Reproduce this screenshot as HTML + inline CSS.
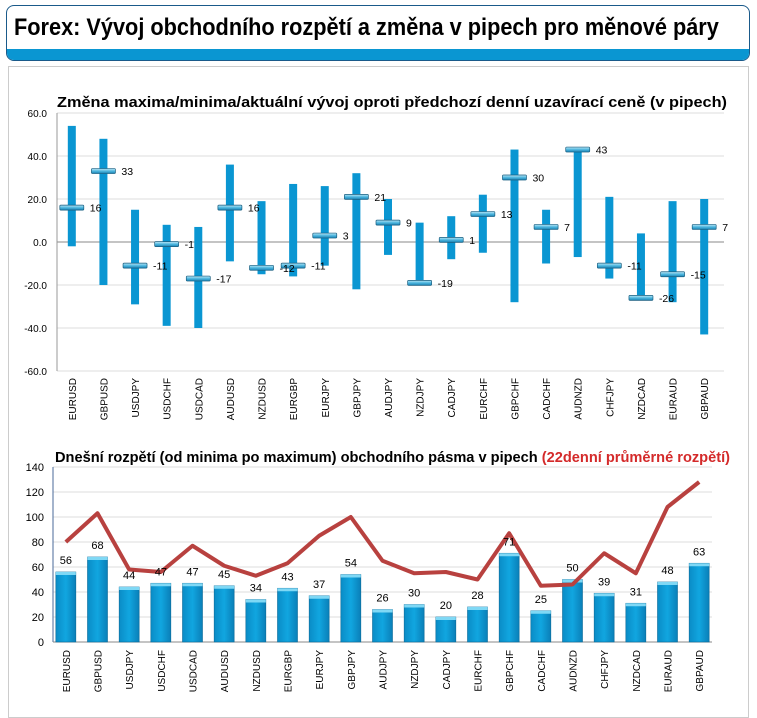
<!DOCTYPE html>
<html><head><meta charset="utf-8"><style>
body{margin:0;width:757px;height:706px;background:#fff;overflow:hidden;font-family:"Liberation Sans",sans-serif}
#hdr{position:absolute;left:6px;top:5px;width:742px;height:54px;border:1px solid #1a5a8a;border-radius:8px;overflow:hidden;background:#fff}
#hdr .band{position:absolute;left:0;right:0;bottom:0;height:11px;background:#0a96d2}
#hdr .t{position:absolute;left:7px;top:8px;font-weight:bold;font-size:24px;color:#000;white-space:nowrap;transform:scaleX(0.905);transform-origin:left top}
#panel{position:absolute;left:8px;top:66px;width:739px;height:650px;border:1px solid #ccc}
svg{position:absolute;left:0;top:0}
</style></head><body>
<div id="hdr"><div class="t">Forex: Vývoj obchodního rozpětí a změna v pipech pro měnové páry</div><div class="band"></div></div>
<div id="panel"></div>
<svg id="s" width="757" height="706">
<defs><linearGradient id="mk" x1="0" y1="0" x2="0" y2="1"><stop offset="0" stop-color="#bfe6f5"/><stop offset="0.5" stop-color="#4fb8e0"/><stop offset="1" stop-color="#1a7fb0"/></linearGradient>
<linearGradient id="bg" x1="0" y1="0" x2="1" y2="0"><stop offset="0" stop-color="#0a8cc6"/><stop offset="0.5" stop-color="#11a6e0"/><stop offset="1" stop-color="#0a7fb8"/></linearGradient></defs>
<text x="57" y="107" font-size="15" font-weight="bold" textLength="670" lengthAdjust="spacingAndGlyphs">Změna maxima/minima/aktuální vývoj oproti předchozí denní uzavírací ceně (v pipech)</text>
<text x="55" y="462" font-size="15" font-weight="bold" textLength="675" lengthAdjust="spacingAndGlyphs">Dnešní rozpětí (od minima po maximum) obchodního pásma v pipech <tspan fill="#d42a2a">(22denní průměrné rozpětí)</tspan></text>
</svg>
<script>
const cats=["EURUSD","GBPUSD","USDJPY","USDCHF","USDCAD","AUDUSD","NZDUSD","EURGBP","EURJPY","GBPJPY","AUDJPY","NZDJPY","CADJPY","EURCHF","GBPCHF","CADCHF","AUDNZD","CHFJPY","NZDCAD","EURAUD","GBPAUD"];
const highs=[54,48,15,8,7,36,19,27,26,32,20,9,12,22,43,15,43,21,4,19,20];
const lows=[-2,-20,-29,-39,-40,-9,-15,-16,-11,-22,-6,-19,-8,-5,-28,-10,-7,-17,-26,-28,-43];
const current=[16,33,-11,-1,-17,16,-12,-11,3,21,9,-19,1,13,30,7,43,-11,-26,-15,7];
const topTicks=[60,40,20,0,-20,-40,-60];
const ranges=[56,68,44,47,47,45,34,43,37,54,26,30,20,28,71,25,50,39,31,48,63];
const avg22=[80,103,58,56,77,61,53,63,85,100,65,55,56,50,87,45,46,71,55,108,128];
const botTicks=[0,20,40,60,80,100,120,140];
</script>
<script>
const s=document.getElementById('s');const NS="http://www.w3.org/2000/svg";
function mk(t,a,txt){const e=document.createElementNS(NS,t);for(const k in a)e.setAttribute(k,a[k]);if(txt!==undefined)e.textContent=txt;s.appendChild(e);return e;}
const n=cats.length;
// top chart
const tL=56,tR=720,ty=v=>242-v*2.15,tx=i=>tL+(tR-tL)/n*(i+0.5);
topTicks.forEach(v=>{
 const g=mk('line',{x1:57,x2:724,y1:ty(v),y2:ty(v),stroke:v===0?'#888':'#ddd','stroke-width':1});
 
 const t=mk('text',{x:47,y:ty(v)+4,'font-size':10,'text-anchor':'end'},v.toFixed(1));
 
});
const ax=mk('line',{x1:57,x2:57,y1:ty(60),y2:ty(-60),stroke:'#999'});

cats.forEach((c,i)=>{
 const x=tx(i);
 const b=mk('rect',{x:x-4,y:ty(highs[i]),width:8,height:ty(lows[i])-ty(highs[i]),fill:'#0a96d2'});
 
 const m=mk('rect',{x:x-12,y:ty(current[i])-2.5,width:24,height:5,fill:'url(#mk)',stroke:'#1a5f80','stroke-width':0.7,rx:1});
 
 const xl=mk('text',{transform:`translate(${x+4},378) rotate(-90)`,'font-size':10,'text-anchor':'end'},c);
 
});
cats.forEach((c,i)=>{
 const x=tx(i);
 const l=mk('text',{x:x+18,y:ty(current[i])+4,'font-size':10.5},String(current[i]));
 
});
// bottom chart
const bL=50,bR=715,by=v=>642-v*1.25,bx=i=>bL+(bR-bL)/n*(i+0.5);
botTicks.forEach(v=>{
 if(v>0){const g=mk('line',{x1:53,x2:712,y1:by(v),y2:by(v),stroke:'#ddd'});
 }
 const t=mk('text',{x:44,y:by(v)+4,'font-size':11,'text-anchor':'end'},String(v));
 
});
const a2=mk('line',{x1:53,x2:53,y1:by(140),y2:by(0),stroke:'#4a6a9a'});

const a3=mk('line',{x1:53,x2:712,y1:by(0),y2:by(0),stroke:'#888'});

cats.forEach((c,i)=>{
 const x=bx(i);
 const b=mk('rect',{x:x-10,y:by(ranges[i]),width:20,height:by(0)-by(ranges[i]),fill:'url(#bg)',stroke:'#0a6a98','stroke-width':0.6});
 
 const cap=mk('rect',{x:x-10,y:by(ranges[i]),width:20,height:3,fill:'#7fd8f5'});
 
 const xl=mk('text',{transform:`translate(${x+4},650) rotate(-90)`,'font-size':10,'text-anchor':'end'},c);
 
});
const ln=mk('polyline',{points:avg22.map((v,i)=>bx(i)+','+by(v)).join(' '),fill:'none',stroke:'#b8413f','stroke-width':4,'stroke-linejoin':'round'});

cats.forEach((c,i)=>{
 const l=mk('text',{x:bx(i),y:by(ranges[i])-8,'font-size':11,'text-anchor':'middle'},String(ranges[i]));
 
});
</script>
</body></html>
